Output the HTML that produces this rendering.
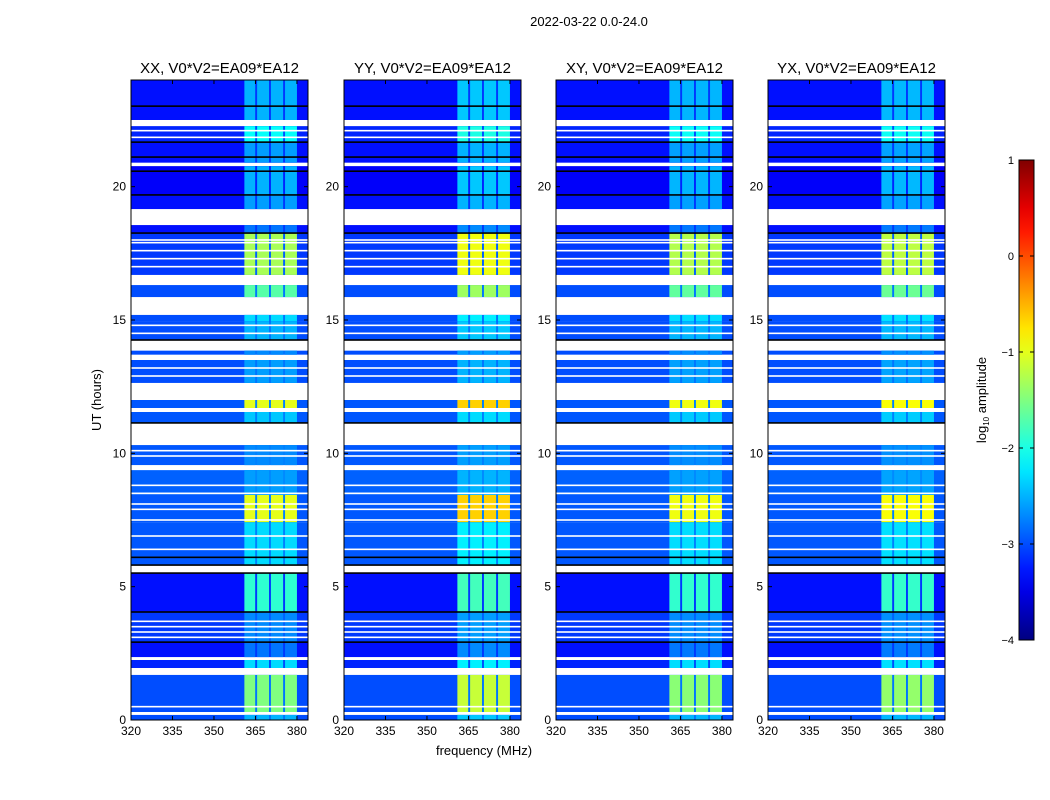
<!DOCTYPE html>
<html><head><meta charset="utf-8">
<style>
body{margin:0;background:#fff;}
svg{display:block;font-family:"Liberation Sans",sans-serif;}
</style></head>
<body>
<svg id="fig" width="1050" height="800" viewBox="0 0 1050 800" xmlns="http://www.w3.org/2000/svg">
<rect width="1050" height="800" fill="#fff"/>
<text x="589" y="26" font-size="13" text-anchor="middle">2022-03-22 0.0-24.0</text>
<text transform="translate(101,400) rotate(-90)" font-size="13" text-anchor="middle">UT (hours)</text>
<text x="484" y="755" font-size="13" text-anchor="middle">frequency (MHz)</text>
<g id="panels"></g>
<g id="cbar"></g>
</svg>
<script>
// ---- data ----
const panelTitles = ["XX, V0*V2=EA09*EA12","YY, V0*V2=EA09*EA12","XY, V0*V2=EA09*EA12","YX, V0*V2=EA09*EA12"];
const panelBandBoost = [0, 0.35, 0.05, 0.1];
const xTicks = [320,335,350,365,380];
const yTicks = [0,5,10,15,20];
// time segments: start UT, end UT, background log10 amp (null = flagged), band log10 amp
const segStart = [0,0.19,0.3,1.69,1.95,2.25,2.36,2.92,4.05,5.51,5.81,7.42,8.44,9.37,9.56,10.31,11.14,11.55,11.7,12.0,12.64,13.5,13.7,13.85,14.25,14.96,15.19,15.86,16.31,16.69,18.26,18.56,19.16,19.69,20.77,20.9,21.67,22.27,22.5];
const segEnd   = [0.19,0.3,1.69,1.95,2.25,2.36,2.92,4.05,5.51,5.81,7.42,8.44,9.37,9.56,10.31,11.14,11.55,11.7,12.0,12.64,13.5,13.7,13.85,14.25,14.96,15.19,15.86,16.31,16.69,18.26,18.56,19.16,19.69,20.77,20.9,21.67,22.27,22.5,24];
const segBg    = [-3,null,-3,null,-3.2,null,-3.3,-3.1,-3.3,null,-2.95,-2.95,-2.9,null,-2.95,null,-2.95,null,-2.95,null,-3.0,null,-3,null,-3.0,-3.0,null,-3.0,null,-3.1,-3.3,null,-3.3,-3.4,null,-3.3,-3.2,null,-3.3];
const segBand  = [-2.5,null,-1.5,null,-2.3,null,-2.8,-2.7,-1.9,null,-2.3,-1.0,-2.6,null,-2.7,null,-2.4,null,-1.0,null,-2.6,null,-2.7,null,-2.5,-2.3,null,-1.7,null,-1.3,-2.8,null,-2.6,-2.5,null,-2.6,-2.1,null,-2.5];
// thin flagged lines inside data (UT)
const whiteLines = [0.5,3.1,3.3,3.5,3.7,6.4,6.9,7.5,7.9,8.1,8.5,8.8,9.9,10.1,12.9,13.2,14.5,14.8,17.0,17.3,17.6,17.9,18.0,21.85,22.1];
const blackLines = [2.92,4.05,5.51,5.81,6.1,11.14,14.25,18.26,19.69,20.58,21.11,21.67,23.02];
// bright sub-bands (MHz)
const bandLo = [361,365.6,370.6,375.7];
const bandHi = [364.9,369.9,375.0,380.0];
const freqMin=320, freqMax=384, utMin=0, utMax=24;
const cbTicks = [1,0,-1,-2,-3,-4];

// ---- helpers ----
const NS="http://www.w3.org/2000/svg";
function jet(v){ // v in -4..1
  let t=(v+4)/5; t=Math.max(0,Math.min(1,t));
  const c=x=>Math.round(255*Math.max(0,Math.min(1,x)));
  const r=c(1.5-Math.abs(4*t-3)), g=c(1.5-Math.abs(4*t-2)), b=c(1.5-Math.abs(4*t-1));
  return `rgb(${r},${g},${b})`;
}
function mk(tag,attrs,parent){const e=document.createElementNS(NS,tag);for(const k in attrs)e.setAttribute(k,attrs[k]);parent.appendChild(e);return e;}
const panelX=[131,344,556,768], PW=177, PT=80, PB=720;
const yS=u=>PB-(u-utMin)/(utMax-utMin)*(PB-PT);
const panelsG=document.getElementById('panels');

panelX.forEach((px,pi)=>{
  const xS=f=>px+(f-freqMin)/(freqMax-freqMin)*PW;
  const g=mk('g',{},panelsG);
  
  
  for(let i=0;i<segStart.length;i++){
    const y1=yS(segEnd[i]), y2=yS(segStart[i]);
    if(segBg[i]===null){continue;}
    const bg=segBg[i], band=segBand[i]+panelBandBoost[pi]*(segBand[i]>-1.8?1:0.3);
    const r=mk('rect',{x:xS(freqMin),y:y1,width:xS(freqMax)-xS(freqMin),height:y2-y1,fill:jet(bg)},g);
    
    
    const r2=mk('rect',{x:xS(bandLo[0]),y:y1,width:xS(bandHi[3])-xS(bandLo[0]),height:y2-y1,fill:jet(bg+0.2)},g);
    
    
    for(let b=0;b<bandLo.length;b++){
      const c=mk('rect',{x:xS(bandLo[b]),y:y1,width:xS(bandHi[b])-xS(bandLo[b]),height:y2-y1,fill:jet(band)},g);
      
      
    }
  }
  whiteLines.forEach(u=>{const l=mk('rect',{x:px,y:yS(u)-0.8,width:PW,height:1.6,fill:'#fff'},g);
    
    });
  blackLines.forEach(u=>{const l=mk('rect',{x:px,y:yS(u)-0.8,width:PW,height:1.6,fill:'#000'},g);
    
    });
  const fr=mk('rect',{x:px,y:PT,width:PW,height:PB-PT,fill:'none',stroke:'#000','stroke-width':1},g);
  
  
  const t=mk('text',{x:px+PW/2,y:73,'font-size':15,'text-anchor':'middle'},g);t.textContent=panelTitles[pi];
  
  
  xTicks.forEach(f=>{const x=xS(f);
    mk('line',{x1:x,x2:x,y1:PB,y2:PB-4,stroke:'#000'},g);mk('line',{x1:x,x2:x,y1:PT,y2:PT+4,stroke:'#000'},g);
    const tl=mk('text',{x:x,y:PB+15,'font-size':12,'text-anchor':'middle'},g);tl.textContent=f;
    
    });
  yTicks.forEach(u=>{const y=yS(u);
    mk('line',{x1:px,x2:px+4,y1:y,y2:y,stroke:'#000'},g);mk('line',{x1:px+PW,x2:px+PW-4,y1:y,y2:y,stroke:'#000'},g);
    const tl=mk('text',{x:px-5,y:y+4,'font-size':12,'text-anchor':'end'},g);tl.textContent=u;
    
    });
});

// colorbar
const cb=document.getElementById('cbar');


const cbX=1019,cbW=15,cbT=160,cbB=640;
const defs=mk('defs',{},cb);
const lg=mk('linearGradient',{id:'jetg',x1:0,y1:1,x2:0,y2:0},defs);
for(let i=0;i<=20;i++){mk('stop',{offset:i/20,'stop-color':jet(-4+5*i/20)},lg);}
mk('rect',{x:cbX,y:cbT,width:cbW,height:cbB-cbT,fill:'url(#jetg)',stroke:'#000','stroke-width':1},cb);
cbTicks.forEach(v=>{const y=cbB-(v+4)/5*(cbB-cbT);
  mk('line',{x1:cbX,x2:cbX+4,y1:y,y2:y,stroke:'#000'},cb);mk('line',{x1:cbX+cbW,x2:cbX+cbW-4,y1:y,y2:y,stroke:'#000'},cb);
  const t=mk('text',{x:cbX-5,y:y+4,'font-size':11,'text-anchor':'end'},cb);t.textContent=(v<0?'\u2212':'')+Math.abs(v);
  
  });
const cl=mk('text',{transform:'translate(986,400) rotate(-90)','font-size':13,'text-anchor':'middle'},cb);
cl.innerHTML='log<tspan font-size="8" dy="3">10</tspan><tspan dy="-3"> amplitude</tspan>';


</script>
</body></html>
